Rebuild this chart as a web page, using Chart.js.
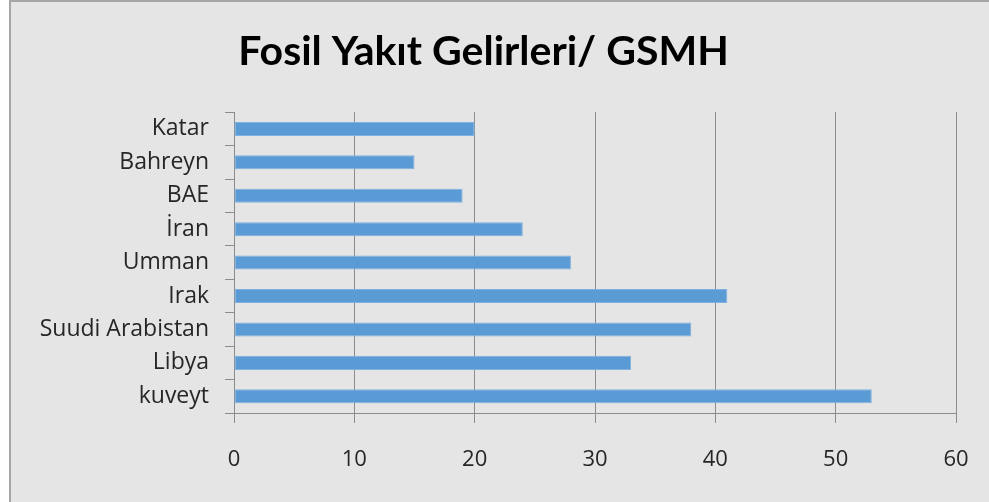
<!DOCTYPE html>
<html>
<head>
<meta charset="utf-8">
<script src="https://cdn.jsdelivr.net/npm/chart.js@4.4.1/dist/chart.umd.min.js"></script>
<style>
  html, body { margin: 0; padding: 0; background: #fff; }
  #wrap {
    position: absolute;
    left: 9px;
    top: 0;
    width: 978px;
    height: 500px;
    border-left: 2px solid #a6a6a6;
    border-top: 2px solid #a6a6a6;
    background: #e5e5e5;
  }
</style>
</head>
<body>
<div id="wrap"><canvas id="chart" width="978" height="500"></canvas></div>
<script>
// data
const countries = ['Katar', 'Bahreyn', 'BAE', 'İran', 'Umman', 'Irak', 'Suudi Arabistan', 'Libya', 'kuveyt'];
const values = [20, 15, 19, 24, 28, 41, 38, 33, 53];
const xTicks = [0, 10, 20, 30, 40, 50, 60];

const axisGrey = '#8c8c8c';
const textColor = '#262626';

const ctx = document.getElementById('chart');

new Chart(ctx, {
  type: 'bar',
  data: {
    labels: countries,
    datasets: [{
      label: 'Fosil Yakıt Gelirleri/ GSMH',
      data: values,
      backgroundColor: '#5b9bd5',
      borderColor: '#7eb1e0',
      borderWidth: 1,
      borderSkipped: false,
      barPercentage: 0.42,
      categoryPercentage: 1
    }]
  },
  options: {
    indexAxis: 'y',
    responsive: false,
    animation: false,
    layout: {
      padding: { left: 0, right: 33, top: 0, bottom: 0 }
    },
    plugins: {
      legend: { display: false },
      tooltip: { enabled: false },
      title: {
        display: true,
        text: 'Fosil Yakıt Gelirleri/ GSMH',
        color: '#000',
        font: { family: 'Lato', size: 41, weight: 'bold', lineHeight: 1.2 },
        padding: { top: 25, bottom: 36 }
      }
    },
    scales: {
      x: {
        min: 0,
        max: 60,
        afterBuildTicks: scale => {
          scale.ticks = xTicks.map(v => ({ value: v }));
        },
        afterFit: scale => { scale.height = 89; },
        grid: {
          color: axisGrey,
          lineWidth: 1,
          drawTicks: true,
          tickLength: 10,
          tickColor: axisGrey
        },
        border: { display: true, color: axisGrey },
        ticks: {
          color: textColor,
          padding: 20,
          font: { family: 'Open Sans', size: 22, lineHeight: 1.55 }
        }
      },
      y: {
        afterFit: scale => { scale.width = 223; },
        grid: {
          drawOnChartArea: false,
          drawTicks: true,
          tickLength: 9,
          tickColor: axisGrey,
          offset: true
        },
        border: { display: true, color: axisGrey },
        ticks: {
          color: textColor,
          padding: 16,
          font: { family: 'Open Sans', size: 23 }
        }
      }
    }
  }
});
</script>
</body>
</html>
